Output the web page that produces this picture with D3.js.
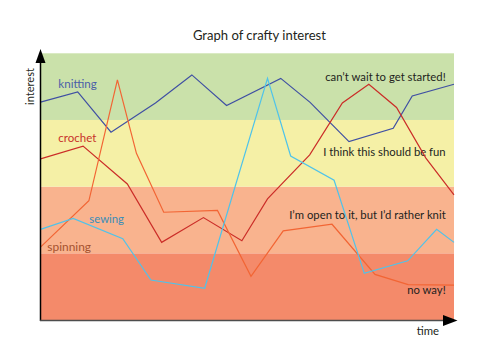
<!DOCTYPE html>
<html><head><meta charset="utf-8">
<script src="https://cdn.jsdelivr.net/npm/d3@7"></script>
<style>body{margin:0;background:#fff}svg{display:block}text{font-family:Lato,"Open Sans",sans-serif}</style>
</head><body><div id="chart"></div>
<script>
// Bands (interest zones), bottom to top
const bandLabels = ["no way!", "I\u2019m open to it, but I\u2019d rather knit", "I think this should be fun", "can\u2019t wait to get started!"];
const bandRanges = [[0,25],[25,50],[50,75],[75,100]];
const bandColors = ["#f48a6a","#f9b38e","#f5f0a6","#cae1aa"];

// Series: time (0-100) and interest (0-100)
const knittingTime = [0, 9.0, 17.05, 27.8, 36.6, 45.0, 58.1, 65.2, 74.6, 85.3, 89.9, 100];
const knittingValues = [81.7, 85.5, 70.4, 81.4, 91.9, 80.4, 90.6, 81.6, 66.9, 71.9, 84.0, 88.4];
const crochetTime = [0, 10.3, 21.0, 29.3, 39.4, 48.7, 54.9, 65.1, 73.0, 79.4, 86.1, 93.2, 100];
const crochetValues = [60.4, 65.2, 51.0, 29.1, 38.4, 29.7, 45.4, 61.9, 81.4, 88.4, 79.7, 60.7, 46.9];
const spinningTime = [0, 11.7, 18.6, 23.2, 29.8, 42.8, 50.9, 58.7, 70.5, 80.9, 88.9, 100];
const spinningValues = [27.3, 44.7, 90.0, 62.5, 40.4, 41.1, 16.4, 33.4, 35.9, 17.1, 13.3, 13.1];
const sewingTime = [0, 7.9, 19.9, 26.7, 39.7, 54.9, 60.5, 71.0, 78.3, 88.8, 95.8, 100];
const sewingValues = [34.0, 38.1, 30.5, 15.0, 11.9, 90.6, 61.5, 52.4, 17.5, 22.2, 34.0, 29.1];
const seriesNames = ["knitting", "crochet", "sewing", "spinning"];

const W = 490, H = 358;
const svg = d3.select("#chart").append("svg").attr("width", W).attr("height", H);
const x = d3.scaleLinear().domain([0,100]).range([40.5,454]);
const y = d3.scaleLinear().domain([0,100]).range([320,53.3]);

// bands
svg.selectAll("rect.band").data(bandRanges).join("rect")
  .attr("x", x(0)).attr("width", x(100)-x(0))
  .attr("y", d => y(d[1])).attr("height", d => y(d[0]) - y(d[1]))
  .attr("fill", (d,i) => bandColors[i]);

// band labels
const bandLabelY = [290, 214.7, 151.7, 76.7];
const bandLabelW = [38.5, 156.5, 122.5, 120.5];
svg.selectAll("text.bl").data(bandLabels).join("text")
  .attr("x", 445.7).attr("y", (d,i) => bandLabelY[i] + 4)
  .attr("text-anchor", "end").attr("font-size", 11.5).attr("fill", "#231f20")
  .attr("textLength", (d,i) => bandLabelW[i]).attr("lengthAdjust", "spacingAndGlyphs")
  .text(d => d);

const series = [
  {name:"knitting", t:knittingTime, v:knittingValues, color:"#3f4fa3"},
  {name:"crochet", t:crochetTime, v:crochetValues, color:"#cb2d28"},
  {name:"spinning", t:spinningTime, v:spinningValues, color:"#f26534"},
  {name:"sewing", t:sewingTime, v:sewingValues, color:"#4fc3ea"}
];
const line = d3.line().x(d => x(d[0])).y(d => y(d[1]));
svg.selectAll("path.s").data(series).join("path")
  .attr("fill","none").attr("stroke", d => d.color).attr("stroke-width", 1.2)
  .attr("stroke-linejoin","miter")
  .attr("d", d => line(d.t.map((t,i) => [t, d.v[i]])));

// series labels
const seriesLabel = [
  {text: seriesNames[0], x:58.3, y:84, color:"#4a5ea8", w:38.5},
  {text: seriesNames[1], x:58.3, y:137.7, color:"#c8302a", w:38},
  {text: seriesNames[2], x:89.3, y:219.3, color:"#3a8db8", w:34.7},
  {text: seriesNames[3], x:47.3, y:246.7, color:"#a5522e", w:43.7}
];
svg.selectAll("text.sl").data(seriesLabel).join("text")
  .attr("x", d => d.x).attr("y", d => d.y + 4).attr("font-size", 11.5)
  .attr("fill", d => d.color)
  .attr("textLength", d => d.w).attr("lengthAdjust", "spacingAndGlyphs")
  .text(d => d.text);

// axes
svg.append("line").attr("x1", 40.5).attr("x2", 40.5).attr("y1", 62).attr("y2", 321)
  .attr("stroke", "#000").attr("stroke-width", 1.5);
svg.append("path").attr("d", "M40.5,49L35.5,63L45.5,63Z").attr("fill", "#000");
svg.append("line").attr("x1", 40).attr("x2", 444).attr("y1", 320.5).attr("y2", 320.5)
  .attr("stroke", "#4d4d4d").attr("stroke-width", 1.5);
svg.append("path").attr("d", "M457.5,320.5L443,315L443,326Z").attr("fill", "#000");

svg.append("text").attr("x", 416.7).attr("y", 334.5).attr("font-size", 11.5).attr("fill", "#231f20")
  .attr("textLength", 22.3).attr("lengthAdjust","spacingAndGlyphs").text("time");
svg.append("text").attr("transform", "translate(34,86.5) rotate(-90)").attr("text-anchor","middle")
  .attr("font-size", 11.5).attr("fill", "#231f20")
  .attr("textLength", 37).attr("lengthAdjust","spacingAndGlyphs").text("interest");

svg.append("text").attr("x", 259.4).attr("y", 39.5).attr("text-anchor","middle")
  .attr("font-size", 13).attr("fill", "#231f20")
  .attr("textLength", 133).attr("lengthAdjust","spacingAndGlyphs").text("Graph of crafty interest");
</script></body></html>
